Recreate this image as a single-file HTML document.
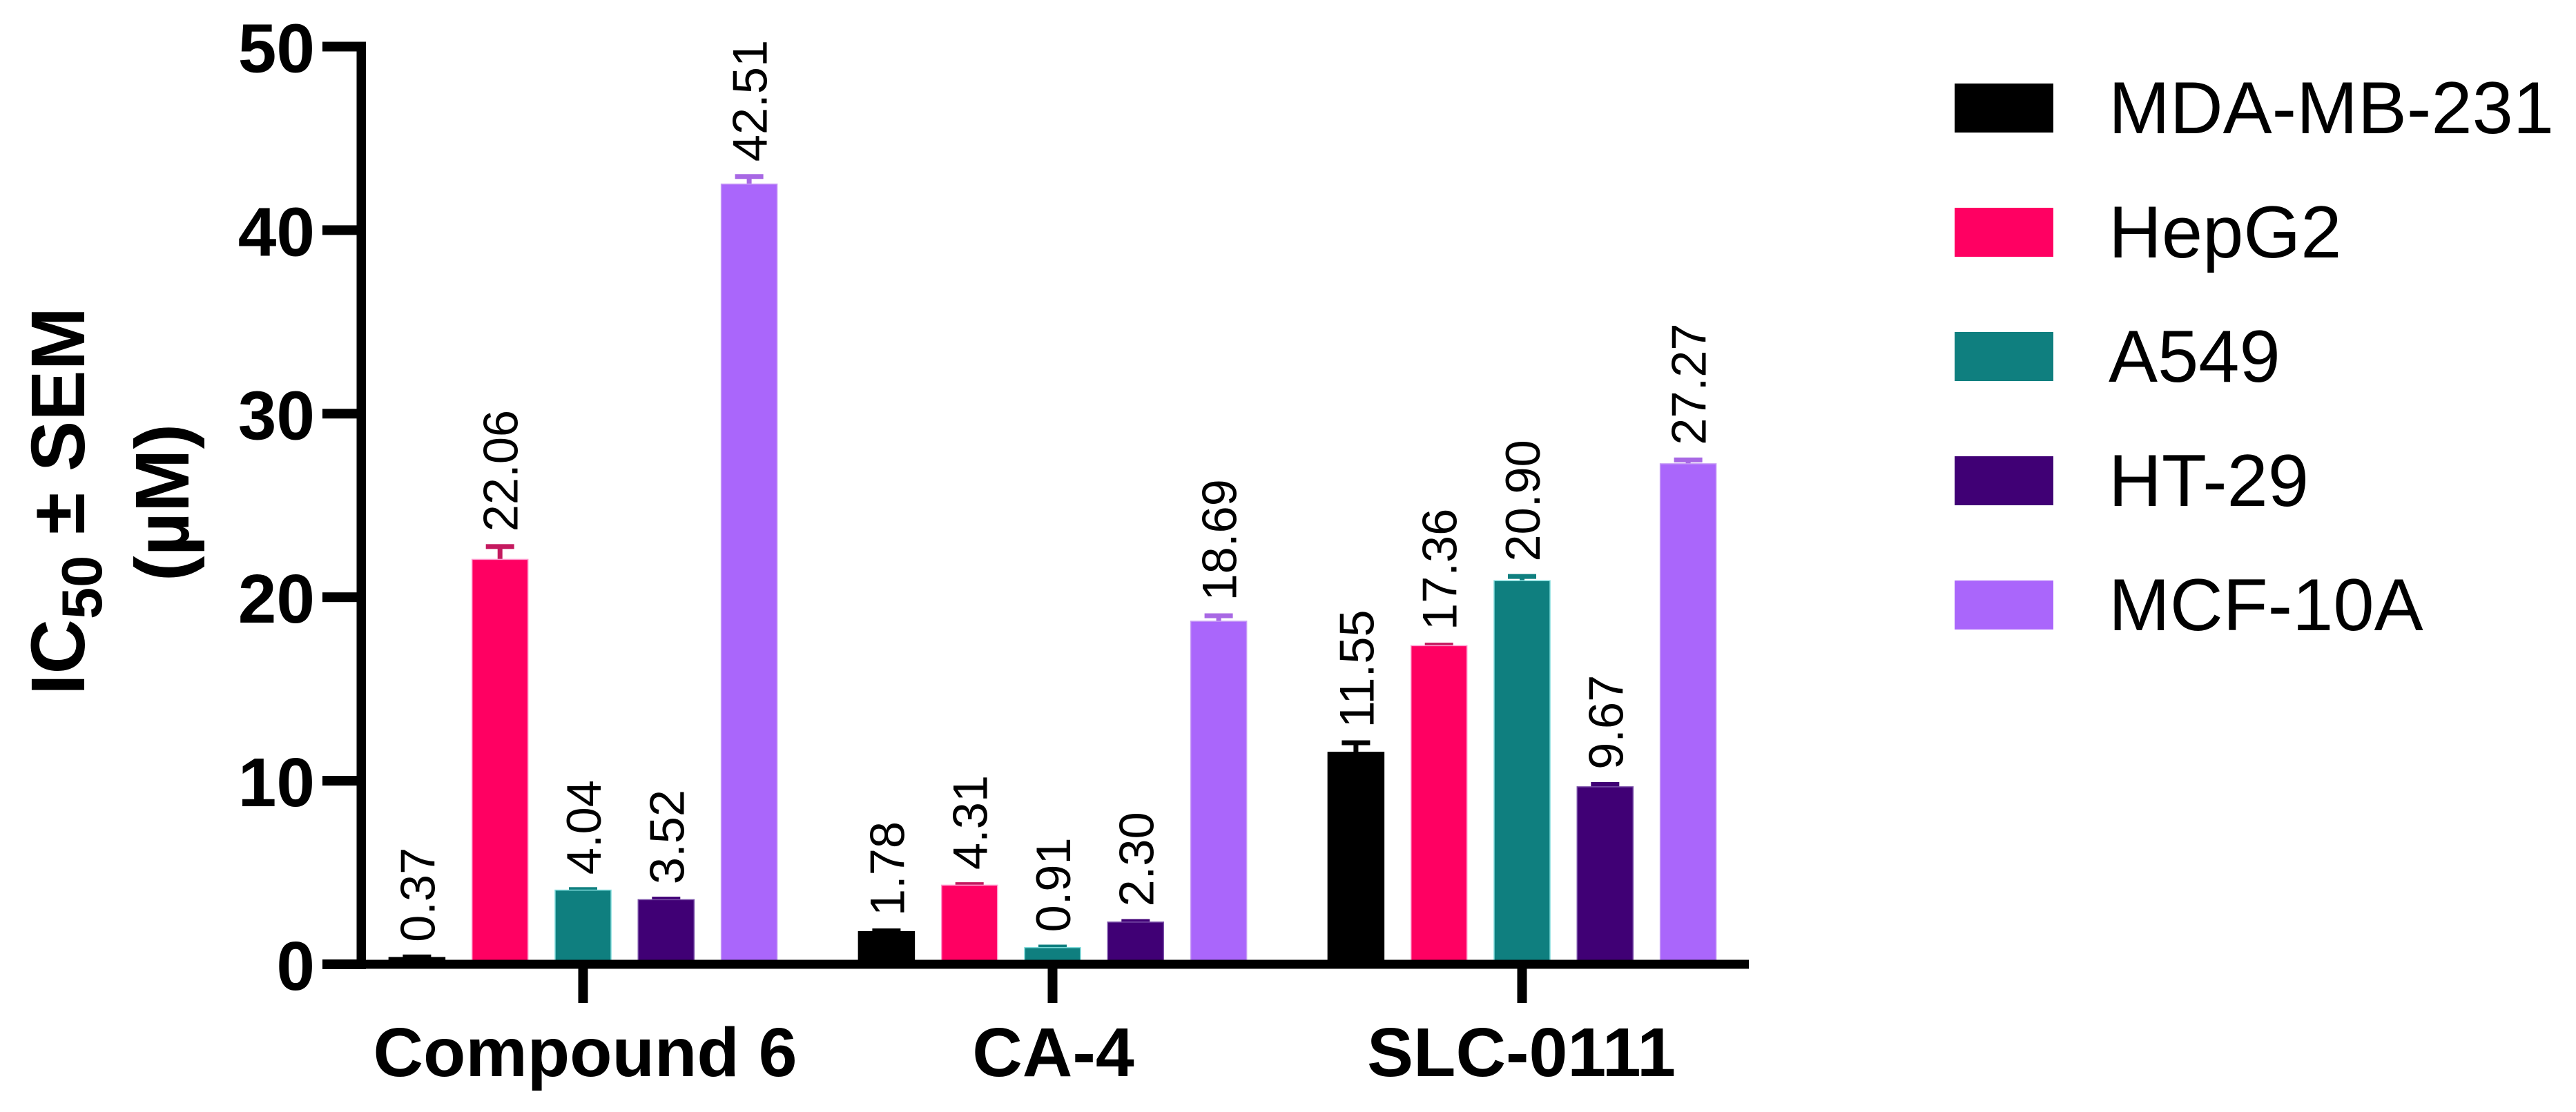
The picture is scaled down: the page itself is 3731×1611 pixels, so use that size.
<!DOCTYPE html>
<html lang="en">
<head>
<meta charset="utf-8">
<title>IC50 by compound and cell line</title>
<style>
html,body{margin:0;padding:0;background:#fff}
svg{display:block}
text{font-family:"Liberation Sans",Arial,sans-serif;fill:#000}
.bold{font-weight:700}
</style>
</head>
<body>
<svg id="chart" xmlns="http://www.w3.org/2000/svg" width="3731" height="1611" viewBox="0 0 3731 1611">
  <rect x="0" y="0" width="3731" height="1611" fill="#fff"/>
  <g id="bars"></g>
  <g id="axes"></g>
  <g id="legend"></g>
  <text class="bold" font-size="110" transform="translate(122,1007) rotate(-90)">IC<tspan font-size="83" dy="25">50</tspan><tspan dy="-25"> ± SEM</tspan></text>
  <text class="bold" font-size="110" text-anchor="middle" transform="translate(273,728) rotate(-90)">(µM)</text>
</svg>
<script>
const categories = ['Compound 6', 'CA-4', 'SLC-0111'];
const seriesNames = ['MDA-MB-231', 'HepG2', 'A549', 'HT-29', 'MCF-10A'];
const mdaValues = [0.37, 1.78, 11.55];
const hepValues = [22.06, 4.31, 17.36];
const a549Values = [4.04, 0.91, 20.90];
const htValues = [3.52, 2.30, 9.67];
const mcfValues = [42.51, 18.69, 27.27];
const mdaErrors = [0.03, 0.04, 0.52];
const hepErrors = [0.70, 0.03, 0.03];
const a549Errors = [0.03, 0.03, 0.23];
const htErrors = [0.03, 0.03, 0.13];
const mcfErrors = [0.41, 0.30, 0.21];
const yTicks = [0, 10, 20, 30, 40, 50];

const seriesValues = [mdaValues, hepValues, a549Values, htValues, mcfValues];
const seriesErrors = [mdaErrors, hepErrors, a549Errors, htErrors, mcfErrors];
const fills = ['#000000', '#ff0062', '#0f7f7f', '#400075', '#aa66fb'];
const halos = ['#000000', '#ff9ccf', '#7fdcdc', '#7a50a8', '#c79cf5'];
const capColors = ['#000000', '#c4195f', '#0f7f7f', '#400075', '#a868e4'];

const NS = 'http://www.w3.org/2000/svg';
const yAt = v => 1397 - v * 26.59;
const groupX = g => 844.5 + g * 680;
const barX = (g, s) => groupX(g) + (s - 2) * 120.3;
const catLabelX = g => 847.5 + g * 678;
const BAR_W = 81;

function make(tag, attrs, parent, text) {
  const el = document.createElementNS(NS, tag);
  for (const k in attrs) el.setAttribute(k, attrs[k]);
  if (text !== undefined) el.textContent = text;
  parent.appendChild(el);
  return el;
}

const barsG = document.getElementById('bars');
const axesG = document.getElementById('axes');
const legendG = document.getElementById('legend');

seriesNames.forEach((name, s) => {
  categories.forEach((cat, g) => {
    const value = seriesValues[s][g];
    const err = seriesErrors[s][g];
    const cx = barX(g, s);
    const top = yAt(value);
    const errY = yAt(value + err);

    const stem = make('rect', {x: cx - 3.5, y: errY, width: 7, height: Math.max(top - errY, 0), fill: capColors[s]}, barsG);
    
    

    const cap = make('rect', {x: cx - 20.5, y: errY - 3.5, width: 41, height: 7, fill: capColors[s]}, barsG);
    
    

    const bar = make('rect', {x: cx - BAR_W / 2, y: top, width: BAR_W, height: yAt(0) - top, fill: fills[s], stroke: halos[s], 'stroke-width': 1.5}, barsG);
    
    

    const labelY = errY - 3.5 - 18;
    const label = make('text', {'font-size': 70.5, transform: 'translate(' + (cx + 25.5) + ',' + labelY + ') rotate(-90)'}, barsG, value.toFixed(2));
    
    
  });
});

const yAxisLine = make('rect', {x: 516.5, y: yAt(50) - 7, width: 13.5, height: yAt(0) - yAt(50) + 14, fill: '#000'}, axesG);



const xAxisLine = make('rect', {x: 467, y: yAt(0) - 6.5, width: 2533 - 467, height: 13, fill: '#000'}, axesG);



yTicks.forEach(t => {
  const tick = make('rect', {x: 467, y: yAt(t) - 7, width: 56, height: 14, fill: '#000'}, axesG);
  
  

  const tl = make('text', {class: 'bold', 'font-size': 100, 'text-anchor': 'end', x: 456, y: yAt(t) + 37}, axesG, String(t));
  
  
});

categories.forEach((cat, g) => {
  const tick = make('rect', {x: groupX(g) - 7, y: yAt(0), width: 14, height: 56, fill: '#000'}, axesG);
  
  

  const tl = make('text', {class: 'bold', 'font-size': 100.5, 'text-anchor': 'middle', x: catLabelX(g), y: 1559}, axesG, cat);
  
  
});

seriesNames.forEach((name, s) => {
  const rowY = 121 + s * 180;
  const swatch = make('rect', {x: 2831, y: rowY, width: 143, height: 71, fill: fills[s]}, legendG);
  
  

  const label = make('text', {'font-size': 106.5, x: 3054, y: rowY + 72}, legendG, name);
  
  
});
</script>
</body>
</html>
